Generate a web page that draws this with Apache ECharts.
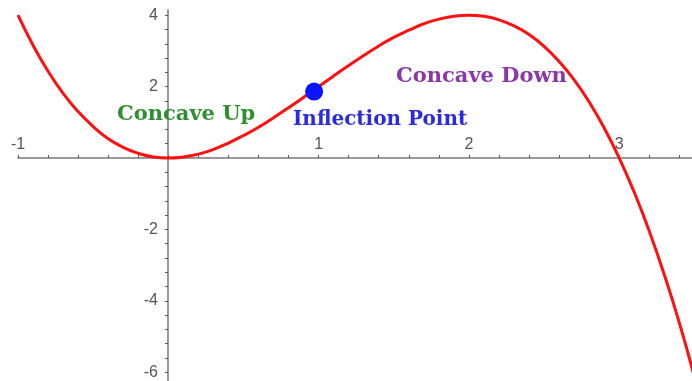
<!DOCTYPE html>
<html>
<head>
<meta charset="utf-8">
<script src="https://cdn.jsdelivr.net/npm/echarts@6/dist/echarts.min.js"></script>
<style>html,body{margin:0;padding:0;background:#fff}#c{width:692px;height:381px}</style>
</head>
<body>
<div id="c"></div>
<script>
// Curve points (x, y)
var curveX = [-1.0,-0.9,-0.8,-0.7,-0.6,-0.5,-0.4,-0.3,-0.2,-0.1,0.0,0.1,0.2,0.3,0.4,0.5,0.6,0.7,0.8,0.9,1.0,1.1,1.2,1.3,1.4,1.5,1.6,1.7,1.8,1.9,2.0,2.1,2.2,2.3,2.4,2.5,2.6,2.7,2.8,2.9,3.0,3.1,3.2,3.3,3.4,3.5];
var curveY = [4.0,3.16,2.43,1.81,1.30,0.88,0.54,0.30,0.13,0.03,0.0,0.03,0.11,0.24,0.42,0.63,0.86,1.13,1.41,1.70,2.0,2.30,2.59,2.87,3.14,3.38,3.58,3.76,3.89,3.97,4.0,3.97,3.87,3.70,3.46,3.13,2.70,2.19,1.57,0.84,0.0,-0.96,-2.05,-3.27,-4.62,-6.13];
var inflectionPoint = [0.97, 1.86];
var xTickLabels = [-1, 1, 2, 3];
var yTickLabels = [4, 2, -2, -4, -6];
var annotations = [
  {text: 'Concave Up', color: '#2f8f2f', x: 117, y: 117, size: 21},
  {text: 'Inflection Point', color: '#2a2ae0', x: 293, y: 122, size: 20},
  {text: 'Concave Down', color: '#8a38a8', x: 396, y: 79, size: 21}
];

var xMinor = [];
for (var i = 0; i <= 22; i++) xMinor.push(Math.round((-1 + i * 0.2) * 10) / 10);
var yMinor = [];
for (var j = 0; j <= 25; j++) yMinor.push(Math.round((4 - j * 0.4) * 10) / 10);

var chart = echarts.init(document.getElementById('c'));
chart.setOption({
  animation: false,
  backgroundColor: '#fff',
  grid: {left: 18, right: 0, top: 10, bottom: 0, containLabel: false, outerBoundsMode: 'none'},
  xAxis: {
    type: 'value', min: -1, max: 3.484,
    position: 'bottom', offset: -223,
    splitLine: {show: false},
    axisLine: {onZero: false, lineStyle: {color: '#999', width: 2}},
    axisTick: {show: true, inside: true, length: 3, customValues: xMinor, lineStyle: {color: '#555', width: 1}},
    axisLabel: {inside: true, margin: 5, customValues: xTickLabels, color: '#555', fontSize: 16, fontFamily: 'Liberation Sans'}
  },
  yAxis: {
    type: 'value', min: -6.246, max: 4.146,
    position: 'left', offset: -150,
    splitLine: {show: false},
    axisLine: {onZero: false, lineStyle: {color: '#999', width: 2}},
    axisTick: {show: true, inside: false, length: 3, customValues: yMinor, lineStyle: {color: '#555', width: 1}},
    axisLabel: {margin: 10, customValues: yTickLabels, color: '#555', fontSize: 16, fontFamily: 'Liberation Sans'}
  },
  series: [
    {
      type: 'line', smooth: true, symbol: 'none',
      data: curveX.map(function (x, k) { return [x, curveY[k]]; }),
      lineStyle: {color: '#ff1010', width: 3},
      z: 3
    },
    {
      type: 'scatter', symbol: 'circle', symbolSize: 18,
      data: [inflectionPoint],
      itemStyle: {color: '#0a14ff', opacity: 1},
      z: 4
    }
  ],
  graphic: annotations.map(function (a) {
    return {
      type: 'text', left: a.x, top: a.y - a.size * 0.62, z: 10,
      style: {text: a.text, fill: a.color, font: 'bold ' + a.size + 'px "DejaVu Serif"'}
    };
  })
});
</script>
</body>
</html>
